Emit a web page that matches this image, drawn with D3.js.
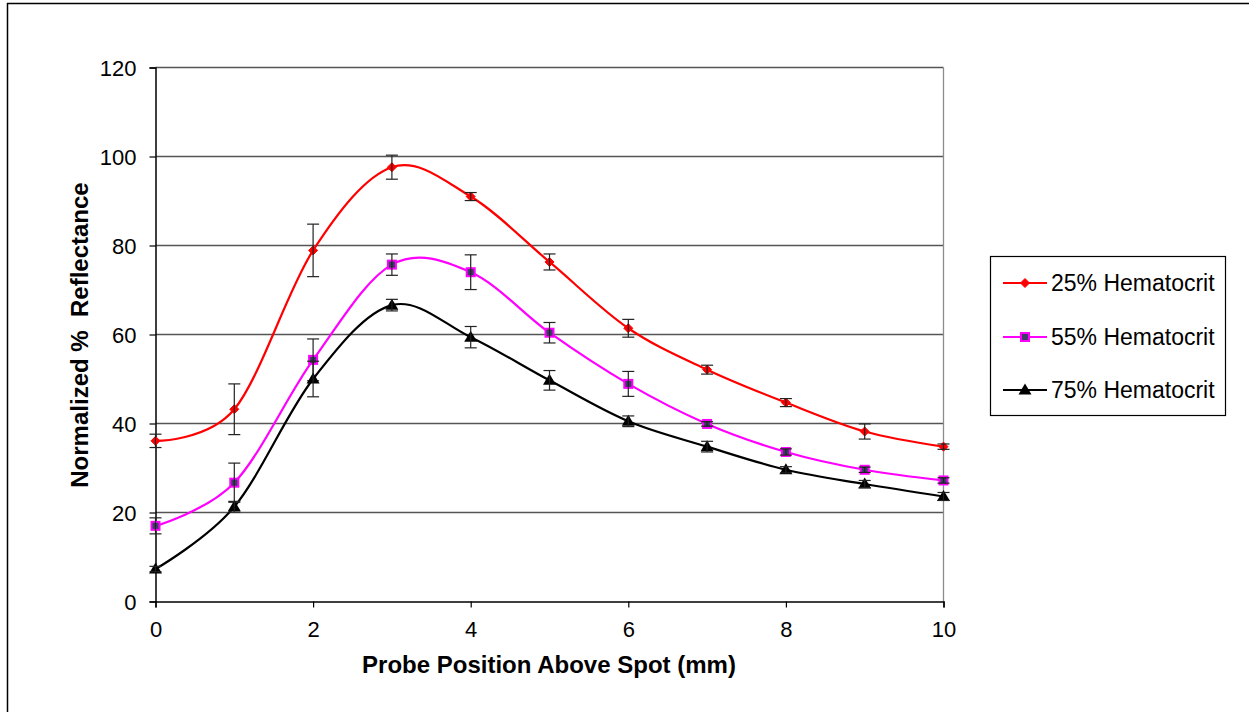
<!DOCTYPE html>
<html>
<head>
<meta charset="utf-8">
<script src="https://cdn.jsdelivr.net/npm/d3@7"></script>
<style>
  html, body { margin: 0; padding: 0; background: #fff; }
  svg { display: block; font-family: "Liberation Sans", Arial, sans-serif; }
</style>
</head>
<body>
<svg id="chart" width="1249" height="712"></svg>
<script>
// Probe positions (mm)
const positions = [0, 1, 2, 3, 4, 5, 6, 7, 8, 9, 10];

// Normalized % reflectance per hematocrit level
const hct25 = [36.1, 43.2, 78.9, 97.6, 91.0, 76.3, 61.4, 52.1, 44.7, 38.2, 34.8];
const hct55 = [17.0, 26.7, 54.3, 75.7, 74.0, 60.4, 48.9, 39.9, 33.6, 29.6, 27.2];
const hct75 = [7.3, 21.3, 50.0, 66.6, 59.4, 49.7, 40.5, 34.8, 29.6, 26.4, 23.6];

// Error bar half-widths (standard deviation)
const err25 = [1.5, 5.7, 5.9, 2.7, 0.9, 1.8, 2.0, 1.0, 0.9, 1.7, 0.6];
const err55 = [1.8, 4.4, 4.7, 2.4, 3.9, 2.3, 2.8, 0.5, 0.7, 0.6, 0.6];
const err75 = [0.6, 1.2, 4.0, 1.3, 2.4, 2.2, 1.2, 1.2, 0.7, 0.8, 0.9];

const seriesNames = ["25% Hematocrit", "55% Hematocrit", "75% Hematocrit"];
const xTicks = [0, 2, 4, 6, 8, 10];
const yTicks = [0, 20, 40, 60, 80, 100, 120];

const series = [
  { name: seriesNames[0], values: hct25, errors: err25, color: "#ff0000", marker: "diamond" },
  { name: seriesNames[1], values: hct55, errors: err55, color: "#ff00ff", marker: "square" },
  { name: seriesNames[2], values: hct75, errors: err75, color: "#000000", marker: "triangle" }
];

const svg = d3.select("#chart");

// Outer chart frame
svg.append("rect")
  .attr("x", 7.5).attr("y", 3.5)
  .attr("width", 1300).attr("height", 800)
  .attr("fill", "none").attr("stroke", "#000").attr("stroke-width", 1.5);

const plot = { left: 155.5, top: 67.5, right: 943.5, bottom: 601.5 };

const x = d3.scaleLinear().domain([0, 10]).range([plot.left, plot.right]);
const y = d3.scaleLinear().domain([0, 120]).range([plot.bottom, plot.top]);

// Horizontal gridlines
svg.append("g")
  .selectAll("line")
  .data(yTicks.filter(d => d > 0))
  .join("line")
  .attr("x1", plot.left).attr("x2", plot.right)
  .attr("y1", d => y(d)).attr("y2", d => y(d))
  .attr("stroke", "#555").attr("stroke-width", 1.3);

// Right edge of plot area
svg.append("line")
  .attr("x1", plot.right).attr("x2", plot.right)
  .attr("y1", plot.top).attr("y2", plot.bottom)
  .attr("stroke", "#8c8c8c").attr("stroke-width", 1.3);

// Axes
const yAxis = d3.axisLeft(y).tickValues(yTicks).tickSize(6).tickPadding(13).tickFormat(d3.format("d"));
const xAxis = d3.axisBottom(x).tickValues(xTicks).tickSize(6).tickPadding(14).tickFormat(d3.format("d"));

const gy = svg.append("g").attr("transform", `translate(${plot.left},0)`).call(yAxis);
const gx = svg.append("g").attr("transform", `translate(0,${plot.bottom})`).call(xAxis);

[gx, gy].forEach(g => {
  g.select(".domain").attr("stroke", "#000").attr("stroke-width", 1.5);
  g.selectAll(".tick line").attr("stroke", "#000").attr("stroke-width", 1.2);
  g.selectAll(".tick text")
    .attr("fill", "#000")
    .style("font-size", "22px")
    .style("font-family", "Liberation Sans, Arial, sans-serif");
});
gy.selectAll(".tick text").attr("dy", "0.35em");

// Axis titles
svg.append("text")
  .attr("x", 549)
  .attr("y", 673)
  .attr("text-anchor", "middle")
  .style("font-size", "24px").style("font-weight", "bold")
  .text("Probe Position Above Spot (mm)");

svg.append("text")
  .attr("transform", `translate(88,335) rotate(-90)`)
  .attr("text-anchor", "middle")
  .style("font-size", "24px").style("font-weight", "bold")
  .attr("xml:space", "preserve")
  .text("Normalized %  Reflectance");

// Smoothed series lines
const line = d3.line()
  .x((d, i) => x(positions[i]))
  .y(d => y(d))
  .curve(d3.curveCatmullRom.alpha(0));

const seriesG = svg.append("g");
series.forEach(s => {
  seriesG.append("path")
    .datum(s.values)
    .attr("fill", "none")
    .attr("stroke", s.color)
    .attr("stroke-width", 2.2)
    .attr("d", line);
});

// Marker drawing helper
function drawMarker(g, type, cx, cy, color) {
  if (type === "diamond") {
    g.append("path")
      .attr("d", `M${cx},${cy - 4.5}L${cx + 4.5},${cy}L${cx},${cy + 4.5}L${cx - 4.5},${cy}Z`)
      .attr("fill", color).attr("stroke", color).attr("stroke-width", 1);
  } else if (type === "square") {
    g.append("rect")
      .attr("x", cx - 4).attr("y", cy - 4)
      .attr("width", 8).attr("height", 8)
      .attr("fill", "#3c3c66").attr("stroke", color).attr("stroke-width", 2);
  } else {
    g.append("path")
      .attr("d", `M${cx},${cy - 6.5}L${cx + 6.5},${cy + 4.5}L${cx - 6.5},${cy + 4.5}Z`)
      .attr("fill", color);
  }
}

// Markers and error bars
series.forEach(s => {
  const g = svg.append("g");
  s.values.forEach((v, i) => {
    const cx = x(positions[i]);
    drawMarker(g, s.marker, cx, y(v), s.color);
  });
  const eg = svg.append("g").attr("stroke", "#222").attr("stroke-width", 1.2);
  s.values.forEach((v, i) => {
    const cx = x(positions[i]);
    const yt = y(v + s.errors[i]);
    const yb = y(v - s.errors[i]);
    eg.append("line").attr("x1", cx).attr("x2", cx).attr("y1", yt).attr("y2", yb);
    eg.append("line").attr("x1", cx - 6).attr("x2", cx + 6).attr("y1", yt).attr("y2", yt);
    eg.append("line").attr("x1", cx - 6).attr("x2", cx + 6).attr("y1", yb).attr("y2", yb);
  });
});

// Legend
const legend = svg.append("g");
legend.append("rect")
  .attr("x", 990.5).attr("y", 256.5)
  .attr("width", 235).attr("height", 159)
  .attr("fill", "#fff").attr("stroke", "#000").attr("stroke-width", 1.2);

const legendY = [283, 337, 390];
series.forEach((s, i) => {
  const ly = legendY[i];
  legend.append("line")
    .attr("x1", 1003).attr("x2", 1047)
    .attr("y1", ly).attr("y2", ly)
    .attr("stroke", s.color).attr("stroke-width", 2.2);
  drawMarker(legend, s.marker, 1025, ly, s.color);
  legend.append("text")
    .attr("x", 1051).attr("y", ly)
    .attr("dy", "0.36em")
    .style("font-size", "23px")
    .text(s.name);
});
</script>
</body>
</html>
